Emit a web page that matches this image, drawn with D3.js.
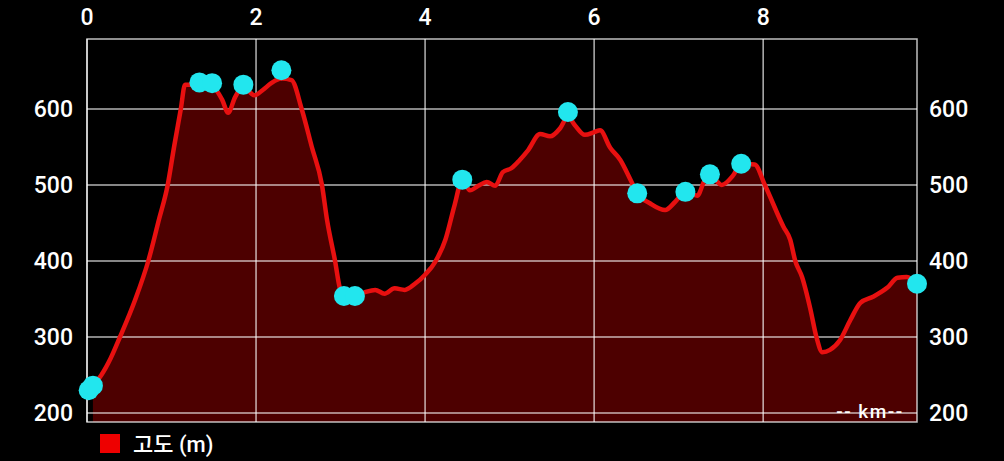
<!DOCTYPE html>
<html><head><meta charset="utf-8">
<script src="https://cdn.jsdelivr.net/npm/d3@7"></script>
<style>
html,body{margin:0;padding:0;background:#000;}
svg{display:block;}
text{font-family:Roboto,"Noto Sans CJK KR",sans-serif;fill:#fff;}
</style></head>
<body>
<svg id="c" width="1004" height="461"></svg>
<script>
// Distance along route (km)
const distKm = [0.07,0.17,0.28,0.39,0.57,0.725,0.85,0.955,1.03,1.11,1.16,1.25,1.35,1.5,1.6,1.67,1.75,1.85,1.98,2.08,2.18,2.3,2.42,2.54,2.66,2.78,2.84,2.935,2.99,3.04,3.17,3.29,3.41,3.52,3.64,3.76,3.88,4.0,4.12,4.24,4.35,4.44,4.53,4.63,4.73,4.83,4.92,5.02,5.12,5.22,5.36,5.48,5.6,5.69,5.77,5.89,6.01,6.07,6.19,6.31,6.43,6.51,6.66,6.84,6.96,7.08,7.22,7.31,7.37,7.51,7.64,7.74,7.9,8.02,8.24,8.32,8.38,8.46,8.56,8.63,8.7,8.79,8.91,9.03,9.15,9.3,9.47,9.59,9.7,9.82];
// Elevation (m)
const elevM = [236,250,272,300,349,400,454,500,550,600,632,632,632,628,612,595,615,630,618,625,634,640,638,600,550,500,454,400,365,354,354,359,362,357,364,362,370,382,399,428,474,507,493,499,504,499,517,522,533,546,567,564,575,590,579,566,570,572,549,533,507,489,476,467,478,491,486,507,514,500,512,528,527,500,445,428,400,379,336,300,280,283,296,322,345,353,365,378,379,370];
// Waypoint markers
const markKm = [0.02,0.07,1.33,1.48,1.85,2.3,3.04,3.17,4.44,5.69,6.51,7.08,7.37,7.74,9.82];
const markM  = [230,236,635,634,632,651,354,354,507,596,489,491,514,528,370];
// Axis ticks
const xTicks = [0,2,4,6,8];
const yTicks = [200,300,400,500,600];
const legendLabel = "고도 (m)";
const unitLabel = "-- km--";

const svg = d3.select("#c");
const L=87, R=917, T=39, B=422;
const x = d3.scaleLinear().domain([0,9.82]).range([L,R]);
const y = d3.scaleLinear().domain([200,600]).range([413,109]);

const pts = distKm.map((d,i)=>[d,elevM[i]]);

// area fill
svg.append("path")
  .attr("d", d3.area().x(d=>x(d[0])).y0(B).y1(d=>y(d[1])).curve(d3.curveMonotoneX)(pts))
  .attr("fill","#4d0000");

// grid
const g = svg.append("g");
xTicks.forEach(t=>{
  g.append("line").attr("x1",x(t)).attr("x2",x(t)).attr("y1",T).attr("y2",B)
   .attr("stroke","rgba(255,255,255,0.7)").attr("stroke-width",1.5);
});
yTicks.forEach(t=>{
  g.append("line").attr("x1",L).attr("x2",R).attr("y1",y(t)).attr("y2",y(t))
   .attr("stroke","rgba(255,255,255,0.7)").attr("stroke-width",1.5);
});
g.append("rect").attr("x",L).attr("y",T).attr("width",R-L).attr("height",B-T)
 .attr("fill","none").attr("stroke","rgba(255,255,255,0.75)").attr("stroke-width",1.5);

// line
svg.append("path")
  .attr("d", d3.line().x(d=>x(d[0])).y(d=>y(d[1])).curve(d3.curveMonotoneX)(pts))
  .attr("fill","none").attr("stroke","#e81010").attr("stroke-width",4.5)
  .attr("stroke-linejoin","round").attr("stroke-linecap","round");

// markers
svg.append("g").selectAll("circle").data(markKm).join("circle")
  .attr("cx",(d)=>x(d)).attr("cy",(d,i)=>y(markM[i])).attr("r",10)
  .attr("fill","#22e6ee");

// x labels (top)
svg.append("g").selectAll("text").data(xTicks).join("text")
  .attr("x",d=>x(d)).attr("y",25).attr("text-anchor","middle")
  .attr("font-size",23).attr("font-weight",500).text(d=>d);
// y labels left / right
svg.append("g").selectAll("text").data(yTicks).join("text")
  .attr("x",73).attr("y",d=>y(d)+8).attr("text-anchor","end")
  .attr("font-size",23).attr("font-weight",500).text(d=>d);
svg.append("g").selectAll("text").data(yTicks).join("text")
  .attr("x",929).attr("y",d=>y(d)+8).attr("text-anchor","start")
  .attr("font-size",23).attr("font-weight",500).text(d=>d);

// unit label
svg.append("text").attr("x",870).attr("y",418).attr("text-anchor","middle")
  .attr("font-size",19).attr("font-weight",500).attr("letter-spacing",1.5).text(unitLabel);

// legend
svg.append("rect").attr("x",100).attr("y",434).attr("width",20).attr("height",19).attr("fill","#ee0000");
svg.append("text").attr("x",133).attr("y",452).attr("font-size",22).attr("font-weight",500).text(legendLabel);
</script>
</body></html>
